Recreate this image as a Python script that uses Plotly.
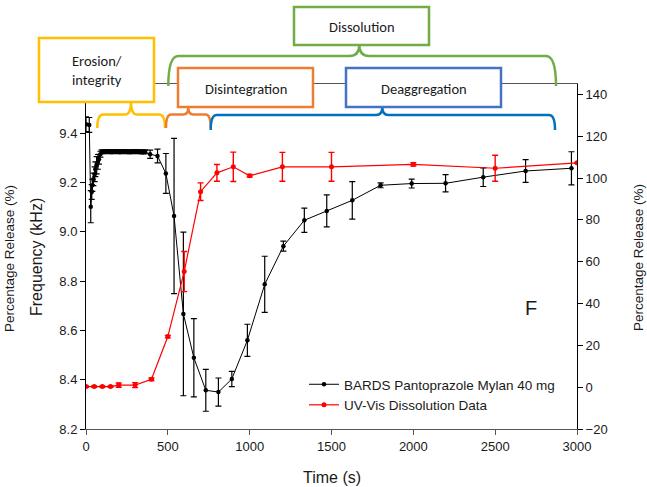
import plotly.graph_objects as go

# ---------------- data ----------------
bards_time = [0, 20, 29, 35, 39, 45, 53, 57, 65, 73, 79, 88,
              96, 113, 130, 147, 164, 181, 198, 215, 232, 249, 266, 283, 300, 317, 334, 351, 361,
              392, 437, 488, 538, 595, 659, 732, 809, 891, 986, 1092, 1206, 1334, 1471,
              1627, 1800, 1990, 2197, 2427, 2686, 2966]
bards_freq = [9.437, 9.434, 9.102, 9.162, 9.189, 9.213, 9.234, 9.254, 9.270, 9.284, 9.295, 9.315,
              9.325, 9.325, 9.326, 9.325, 9.325, 9.326, 9.325, 9.325, 9.326, 9.325, 9.325, 9.325, 9.326, 9.325, 9.325, 9.324, 9.325,
              9.315, 9.308, 9.237, 9.064, 8.667, 8.489, 8.357, 8.350, 8.403, 8.560, 8.787, 8.942, 9.047, 9.085,
              9.128, 9.189, 9.196, 9.197, 9.222, 9.247, 9.258]
bards_err = [0.030, 0.030, 0.065, 0.030, 0.025, 0.025, 0.030, 0.030, 0.035, 0.030, 0.020, 0.012,
             0.008, 0.008, 0.008, 0.008, 0.008, 0.008, 0.008, 0.008, 0.008, 0.008, 0.008, 0.008, 0.008, 0.008, 0.008, 0.008, 0.008,
             0.017, 0.028, 0.081, 0.315, 0.332, 0.159, 0.085, 0.057, 0.031, 0.065, 0.114, 0.020, 0.049, 0.065,
             0.076, 0.010, 0.018, 0.035, 0.038, 0.046, 0.067]

uv_time = [0, 50, 100, 150, 200, 300, 400, 500, 600, 700, 800, 900, 1000, 1200, 1500, 2000, 2500, 3000]
uv_release = [0.3, 0.3, 0.3, 0.3, 1.0, 1.0, 3.8, 24.2, 55.3, 93.5, 102.5, 105.4, 101.1, 105.4, 105.4, 106.6, 104.7, 107.3]
uv_err = [0.3, 0.3, 0.3, 0.3, 1.0, 1.2, 0.6, 0.6, 9.6, 4.2, 4.0, 7.0, 0.6, 6.9, 6.9, 0.8, 6.2, 0.0]

freq_ticks = [8.2, 8.4, 8.6, 8.8, 9.0, 9.2, 9.4]
release_ticks = [-20, 0, 20, 40, 60, 80, 100, 120, 140]

bards_name = "BARDS Pantoprazole Mylan 40 mg"
uv_name = "UV-Vis Dissolution Data"

# ---------------- layout geometry ----------------
W, H = 647, 487
L, R, T, B = 86, 70, 84, 58
PW, PH = W - L - R, H - T - B


def px(X):
    return (X - L) / PW


def py(Y):
    return (H - B - Y) / PH


AX_FONT = "Arial, Liberation Sans, sans-serif"
BOX_FONT = "Carlito, Lato, sans-serif"

fig = go.Figure()
fig.add_trace(go.Scatter(
    x=bards_time, y=bards_freq, name=bards_name, mode="lines+markers",
    line=dict(color="black", width=1),
    marker=dict(color="black", size=4.5),
    error_y=dict(type="data", array=bards_err, color="black", thickness=1.2, width=3),
    yaxis="y",
))
fig.add_trace(go.Scatter(
    x=uv_time, y=uv_release, name=uv_name, mode="lines+markers",
    line=dict(color="#ff0000", width=1.2),
    marker=dict(color="#ff0000", size=5),
    error_y=dict(type="data", array=uv_err, color="#ff0000", thickness=1.4, width=3),
    yaxis="y2",
))

shapes = []


def box(x0, y0, x1, y1, color):
    shapes.append(dict(type="rect", xref="paper", yref="paper",
                       x0=px(x0), x1=px(x1), y0=py(y1), y1=py(y0),
                       fillcolor="white", line=dict(color=color, width=2.5), layer="above"))


def brace(x1, x2, xc, yb, yh, ytip, r, color):
    pts = [("M", [(x1, yb)]),
           ("Q", [(x1, yh), (x1 + r, yh)]),
           ("L", [(xc - r, yh)]),
           ("Q", [(xc, yh), (xc, ytip)]),
           ("Q", [(xc, yh), (xc + r, yh)]),
           ("L", [(x2 - r, yh)]),
           ("Q", [(x2, yh), (x2, yb)])]
    path = " ".join(cmd + " " + " ".join(f"{px(a):.5f},{py(b):.5f}" for a, b in p) for cmd, p in pts)
    shapes.append(dict(type="path", xref="paper", yref="paper", path=path,
                       line=dict(color=color, width=2.5), layer="above"))


brace(97.3, 165, 131, 128, 114.5, 102, 6, "#FFC000")
brace(166, 210.7, 188.3, 128, 114.5, 107, 5, "#ED7D31")
brace(210.7, 555, 382.3, 130, 115, 107, 6, "#0070C0")
brace(168.3, 556, 359.3, 86, 56, 45, 10, "#70AD47")

box(39, 38, 154, 102, "#FFC000")
box(178, 68, 313, 107, "#ED7D31")
box(346, 68, 501, 107, "#4472C4")
box(294, 7, 429, 45, "#70AD47")

annotations = []


def text(X, Y, s, size, font=AX_FONT, angle=0):
    annotations.append(dict(x=px(X), y=py(Y), xref="paper", yref="paper", text=s,
                            showarrow=False, textangle=angle, xanchor="center", yanchor="middle",
                            font=dict(family=font, size=size, color="#1a1a1a")))


text(96.5, 70, "Erosion/<br>integrity", 14.5, BOX_FONT)
text(245.5, 89, "Disintegration", 14.5, BOX_FONT)
text(423.5, 89, "Deaggregation", 14.5, BOX_FONT)
text(361.5, 27, "Dissolution", 14.5, BOX_FONT)
text(531, 308, "F", 20)
text(36, 257, "Frequency (kHz)", 16, angle=-90)
text(9, 259, "Percentage Release (%)", 13.5, angle=-90)
text(638, 258, "Percentage Release (%)", 13.5, angle=-90)
text(332, 477, "Time (s)", 16)

fig.update_layout(
    width=W, height=H,
    margin=dict(l=L, r=R, t=T, b=B, pad=0),
    paper_bgcolor="white", plot_bgcolor="white",
    font=dict(family=AX_FONT, size=13, color="#1a1a1a"),
    showlegend=True,
    legend=dict(x=px(304), y=py(369), xanchor="left", yanchor="top",
                bgcolor="rgba(0,0,0,0)", font=dict(family=AX_FONT, size=13.5, color="#1a1a1a"),
                itemwidth=30, tracegroupgap=0),
    xaxis=dict(range=[0, 3000], dtick=500, showgrid=False, zeroline=False,
               showline=True, linecolor="#555555", linewidth=1.3, mirror=True,
               ticks="outside", ticklen=5, tickcolor="#555555",
               tickfont=dict(size=13)),
    yaxis=dict(range=[8.2, 9.6], tickvals=freq_ticks, tickformat=".1f", showgrid=False, zeroline=False,
               showline=True, linecolor="black", linewidth=1,
               ticks="outside", ticklen=5, tickcolor="black", tickfont=dict(size=13)),
    yaxis2=dict(range=[-20, 145], tickvals=release_ticks,
                overlaying="y", side="right", showgrid=False, zeroline=False,
                showline=True, linecolor="black", linewidth=1,
                ticks="outside", ticklen=5, tickcolor="black", tickfont=dict(size=13)),
    shapes=shapes,
    annotations=annotations,
)

fig.write_html("out.html")
